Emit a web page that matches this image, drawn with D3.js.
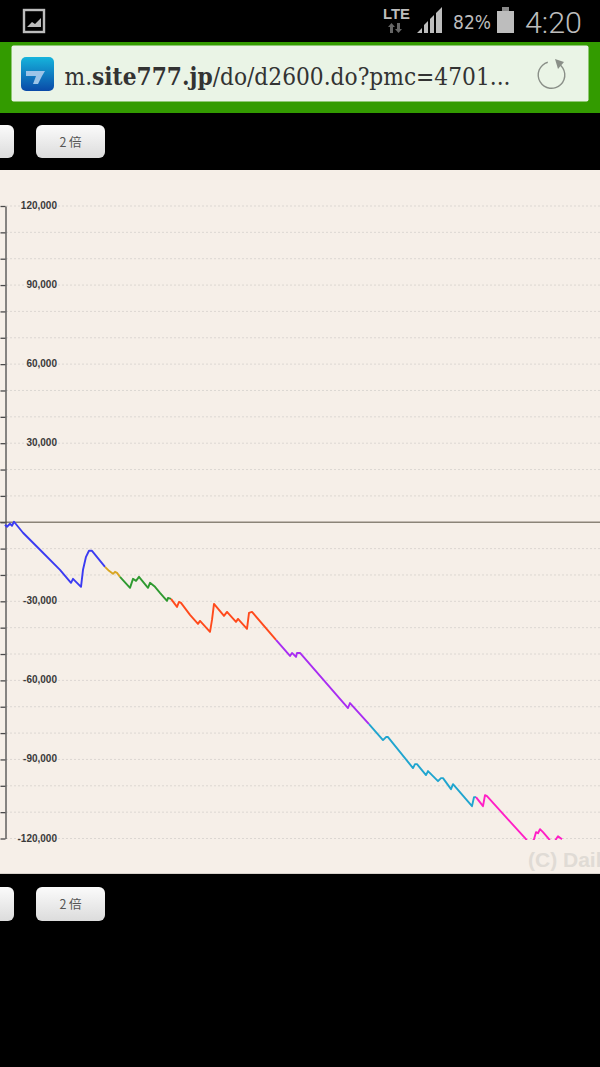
<!DOCTYPE html>
<html><head><meta charset="utf-8">
<script src="https://cdnjs.cloudflare.com/ajax/libs/d3/7.8.5/d3.min.js"></script>
<style>html,body{margin:0;padding:0;background:#000;overflow:hidden}svg{display:block}</style>
</head><body><svg id="c" width="600" height="1067"></svg>
<script>
const tickLabels=[120000,90000,60000,30000,-30000,-60000,-90000,-120000];
const blueX=[5,7,10,12,14,23,40,60,71,73,81,83,86,89,92,105];
const blueV=[-950,-1710,-570,-1330,190,-3990,-10450,-18050,-22990,-21470,-24510,-18050,-13110,-10830,-10830,-16910];
const orangeX=[105,109,113,115,117,120];
const orangeV=[-16910,-18430,-19570,-18810,-19190,-20710];
const greenX=[120,130,133,136,139,148,150,155,160,167,168,171];
const greenV=[-20710,-24890,-21470,-22230,-20710,-24890,-22990,-24510,-26790,-29830,-28690,-29070];
const redX=[171,177,179,181,190,198,200,210,212,214,224,227,236,238,247,249,252,276];
const redV=[-29070,-32110,-30210,-30590,-35150,-38570,-37430,-41610,-37050,-30970,-35530,-34010,-37810,-36670,-40470,-34390,-34010,-44650];
const purpleX=[276,290,292,296,297,300,348,350,369];
const purpleV=[-44650,-50730,-49590,-51110,-49590,-49590,-70490,-68590,-76570];
const cyanX=[369,383,386,388,413,415,417,426,428,438,441,443,451,453,472,474,476];
const cyanV=[-76570,-82650,-81510,-81510,-93290,-91770,-91770,-95950,-94430,-98230,-97090,-97090,-101270,-99370,-107730,-104310,-104310];
const magentaX=[476,483,485,487,526,530,534,536,538,540,543,549,553,556,558,562];
const magentaV=[-104310,-107730,-103550,-103930,-120270,-122550,-120270,-117610,-117990,-116470,-117610,-120270,-122550,-120270,-119130,-120270];
const segments=[[blueX,blueV,"#3b3bf2"],[orangeX,orangeV,"#d8a522"],[greenX,greenV,"#2f9a30"],[redX,redV,"#ff4a1c"],[purpleX,purpleV,"#a92df2"],[cyanX,cyanV,"#20a5cf"],[magentaX,magentaV,"#ff1fc6"]];
const buttonLabel="2 倍";

const svg=d3.select("#c");
const x=d3.scaleLinear().domain([0,600]).range([0,600]);
const y=d3.scaleLinear().domain([120000,-120000]).range([206,838.5]);
const defs=svg.append("defs");
const bg=defs.append("linearGradient").attr("id","btn").attr("x1",0).attr("x2",0).attr("y1",0).attr("y2",1);
bg.append("stop").attr("offset",0).attr("stop-color","#fbfbfb");
bg.append("stop").attr("offset",1).attr("stop-color","#dcdcdc");
const ic=defs.append("linearGradient").attr("id","ico").attr("x1",0).attr("x2",0).attr("y1",0).attr("y2",1);
ic.append("stop").attr("offset",0).attr("stop-color","#16b4dc");
ic.append("stop").attr("offset",1).attr("stop-color","#0a4aa8");
defs.append("clipPath").attr("id","plot").append("rect").attr("x",0).attr("y",170).attr("width",600).attr("height",y(-120550)-170);

// chart panel
svg.append("rect").attr("x",0).attr("y",170).attr("width",600).attr("height",703).attr("fill","#f6efe8");
svg.append("rect").attr("x",0).attr("y",873).attr("width",600).attr("height",1).attr("fill","#d8d2cc");

// grid every 10,000
const gridVals=d3.range(-120000,120001,10000);
svg.append("g").selectAll("line").data(gridVals.filter(d=>d!==0)).join("line")
 .attr("x1",6).attr("x2",600).attr("y1",d=>y(d)).attr("y2",d=>y(d))
 .attr("stroke","#dcd7d2").attr("stroke-width",1).attr("stroke-dasharray","2 2");
svg.append("line").attr("x1",0).attr("x2",600).attr("y1",y(0)).attr("y2",y(0)).attr("stroke","#8b8478").attr("stroke-width",1.5);

// axis
const ax=d3.axisLeft(y).tickValues(gridVals).tickSize(5).tickSizeOuter(0).tickFormat("");
const axg=svg.append("g").attr("transform","translate(5.5,0)").call(ax);
axg.selectAll("path").attr("stroke","#4a4a4a").attr("stroke-width",1.3);
axg.selectAll("line").attr("stroke","#4a4a4a").attr("stroke-width",1.3);

const fmt=d3.format(",");
svg.append("g").selectAll("text").data(tickLabels).join("text")
 .attr("x",57).attr("y",d=>y(d)+3).attr("text-anchor","end")
 .attr("font-family","Liberation Sans, sans-serif").attr("font-size",10).attr("font-weight",700).attr("fill","#3a3a3a")
 .text(d=>fmt(d).replace("\u2212","-"));

// lines
const line=d3.line().x(d=>x(d[0])).y(d=>y(d[1]));
svg.append("g").attr("clip-path","url(#plot)").selectAll("path").data(segments).join("path")
 .attr("d",s=>line(s[0].map((v,i)=>[v,s[1][i]])))
 .attr("fill","none").attr("stroke",s=>s[2]).attr("stroke-width",1.9).attr("stroke-linejoin","round");

// watermark
svg.append("text").attr("x",528).attr("y",867).attr("font-family","Liberation Sans, sans-serif").attr("font-size",21).attr("font-weight",700).attr("fill","#e0dbd5").text("(C) Dail");

// browser chrome
svg.append("rect").attr("x",0).attr("y",42).attr("width",600).attr("height",71).attr("fill","#339b00");
svg.append("rect").attr("x",11.5).attr("y",45.5).attr("width",577).attr("height",56).attr("rx",2).attr("fill","#eaf4e6");
svg.append("rect").attr("x",21).attr("y",57).attr("width",33).attr("height",34).attr("rx",5).attr("fill","url(#ico)");
svg.append("path").attr("d","M26 71h19l-3 5-4 8h-5l3-8h-10z").attr("fill","#9cc4e8");
const url=svg.append("text").attr("x",64.5).attr("y",85).attr("font-family","DejaVu Serif, serif").attr("font-size",24).attr("fill","#333").attr("textLength",446).attr("lengthAdjust","spacingAndGlyphs");
url.append("tspan").text("m.");
url.append("tspan").attr("font-weight",700).text("site777.jp");
url.append("tspan").text("/do/d2600.do?pmc=4701...");
// reload
svg.append("path").attr("d",d3.arc()({innerRadius:12.6,outerRadius:14,startAngle:0.55,endAngle:6.0})).attr("transform","translate(551.5,75)").attr("fill","#8a8f88");
svg.append("path").attr("d","M555 59l9 3-6 7z").attr("fill","#8a8f88");

// status bar
const sb="#bdbdbd";
svg.append("rect").attr("x",24).attr("y",10).attr("width",20).attr("height",22).attr("fill","none").attr("stroke",sb).attr("stroke-width",2.4);
svg.append("path").attr("d","M27 27l5-5 3 2 6-6v9z").attr("fill",sb);
svg.append("text").attr("x",383).attr("y",19).attr("font-family","Liberation Sans, sans-serif").attr("font-size",15).attr("font-weight",700).attr("fill",sb).attr("textLength",27).attr("lengthAdjust","spacingAndGlyphs").text("LTE");
svg.append("path").attr("d","M390 33v-6h-2l3.500-4 3.500 4h-2v6zM400 23v6h2l-3.500 4-3.500-4h2v-6z").attr("fill","#666");
svg.append("path").attr("d","M417 33l5-5v5zM424 33v-8l4-4v12zM430 33v-14l4-4v18zM436 33v-20l6-6v26z").attr("fill",sb);
svg.append("text").attr("x",453).attr("y",29).attr("font-family","DejaVu Sans, sans-serif").attr("font-size",19).attr("fill",sb).attr("textLength",38).attr("lengthAdjust","spacingAndGlyphs").text("82%");
svg.append("rect").attr("x",497).attr("y",11).attr("width",17).attr("height",22).attr("fill",sb);
svg.append("rect").attr("x",502).attr("y",7).attr("width",7).attr("height",4).attr("fill","#8a8a8a");
svg.append("text").attr("x",525).attr("y",33).attr("font-family","Roboto, sans-serif").attr("font-weight",300).attr("font-size",30).attr("fill",sb).attr("textLength",57).attr("lengthAdjust","spacingAndGlyphs").text("4:20");

// zoom buttons
[[125,158],[887,921]].forEach(([t,b])=>{
  svg.append("rect").attr("x",-30).attr("y",t).attr("width",44).attr("height",b-t).attr("rx",6).attr("fill","url(#btn)");
  svg.append("rect").attr("x",36).attr("y",t).attr("width",69).attr("height",b-t).attr("rx",6).attr("fill","url(#btn)");
  svg.append("text").attr("x",70.5).attr("y",(t+b)/2+5).attr("text-anchor","middle").attr("font-family","Noto Sans CJK JP, sans-serif").attr("font-size",12.5).attr("fill","#555").text(buttonLabel);
});
</script></body></html>
